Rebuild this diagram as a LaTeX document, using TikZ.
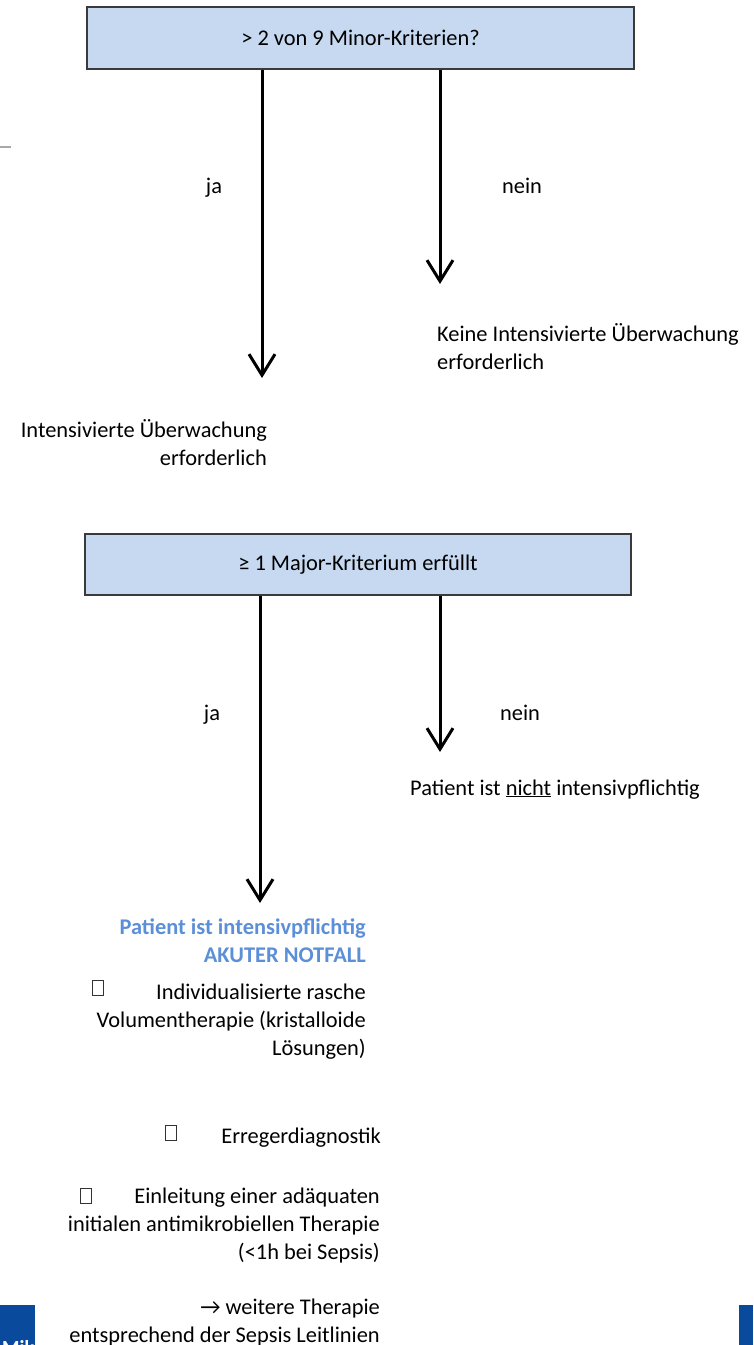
\documentclass[tikz,border=0pt]{standalone}
\usepackage{fontspec}
\setmainfont{Carlito}
\usetikzlibrary{arrows.meta}
\definecolor{boxfill}{HTML}{C6D9F1}
\definecolor{boxline}{HTML}{3A3A3A}
\definecolor{accent}{HTML}{5B8FD8}
\definecolor{darkblue}{HTML}{0A4A9C}
\definecolor{rulegray}{HTML}{A8A8A8}
\tikzset{
  qbox/.style={draw=boxline, line width=1.6pt, fill=boxfill, inner sep=0pt},
  arr/.style={line width=3pt, -{Straight Barb[length=21pt,width=26pt,line width=3pt]}},
  lbl/.style={inner sep=0pt},
  cbox/.style={draw=black!80, line width=1pt, minimum width=11pt, minimum height=15pt, inner sep=0pt},
  hl/.style={text=accent, font=\fontsize{22.4}{27.7}\selectfont\bfseries}
}
\begin{document}
\begin{tikzpicture}[x=1pt,y=-1pt,font=\fontsize{22.4}{27.7}\selectfont]
\useasboundingbox (0,0) rectangle (753,1345);
% first decision
\node[qbox, minimum width=547pt, minimum height=62pt] (q1) at (360.5,38) {> 2 von 9 Minor-Kriterien?};
\coordinate (t1) at (262,378);
\coordinate (t2) at (440,284);
\draw[arr] (q1.south -| t1) -- (t1);
\draw[arr] (q1.south -| t2) -- (t2);
\node[lbl, anchor=base] (ja1) at (214,193) {ja};
\node[lbl, anchor=base] (nein1) at (522,193) {nein};
\node[lbl, anchor=base west, align=left] (r1) at (437,369) {Keine Intensivierte Überwachung\\erforderlich};
\node[lbl, anchor=base east, align=right] (l1) at (267,465) {Intensivierte Überwachung\\erforderlich};
\draw[rulegray, line width=2pt] (0,147) -- (11,147);
% second decision
\node[qbox, minimum width=546pt, minimum height=61pt] (q2) at (358,564.5) {≥ 1 Major-Kriterium erfüllt};
\coordinate (t3) at (260,903);
\coordinate (t4) at (440,752);
\draw[arr] (q2.south -| t3) -- (t3);
\draw[arr] (q2.south -| t4) -- (t4);
\node[lbl, anchor=base] (ja2) at (212,720) {ja};
\node[lbl, anchor=base] (nein2) at (520,720) {nein};
\node[lbl, anchor=base west] (r2) at (410,795) {Patient ist \underline{nicht} intensivpflichtig};
\node[lbl, hl, anchor=base east, align=right] (l2) at (366,962) {Patient ist intensivpflichtig\\AKUTER NOTFALL};
\node[cbox] (c1) at (98,988) {};
\node[lbl, anchor=base east, align=right] (m1) at (366,1055) {Individualisierte rasche\\Volumentherapie (kristalloide\\Lösungen)};
\node[cbox] (c2) at (171,1133) {};
\node[lbl, anchor=base east] (m2) at (381,1143) {Erregerdiagnostik};
\node[cbox] (c3) at (86,1196) {};
\node[lbl, anchor=base east, align=right] (m3) at (380,1259) {Einleitung einer adäquaten\\initialen antimikrobiellen Therapie\\(<1h bei Sepsis)};
\node[lbl, anchor=base east, align=right] (m4) at (380,1342) {→ weitere Therapie\\entsprechend der Sepsis Leitlinien};
% bottom corner blocks
\fill[darkblue] (0,1305) rectangle (35,1345);
\fill[darkblue] (739,1305) rectangle (753,1345);
\begin{scope}
\clip (0,1305) rectangle (35,1345);
\node[lbl, anchor=base west, text=white, font=\fontsize{20}{24}\selectfont\bfseries] (mk) at (2,1354) {Mik};
\end{scope}
\end{tikzpicture}
\end{document}
